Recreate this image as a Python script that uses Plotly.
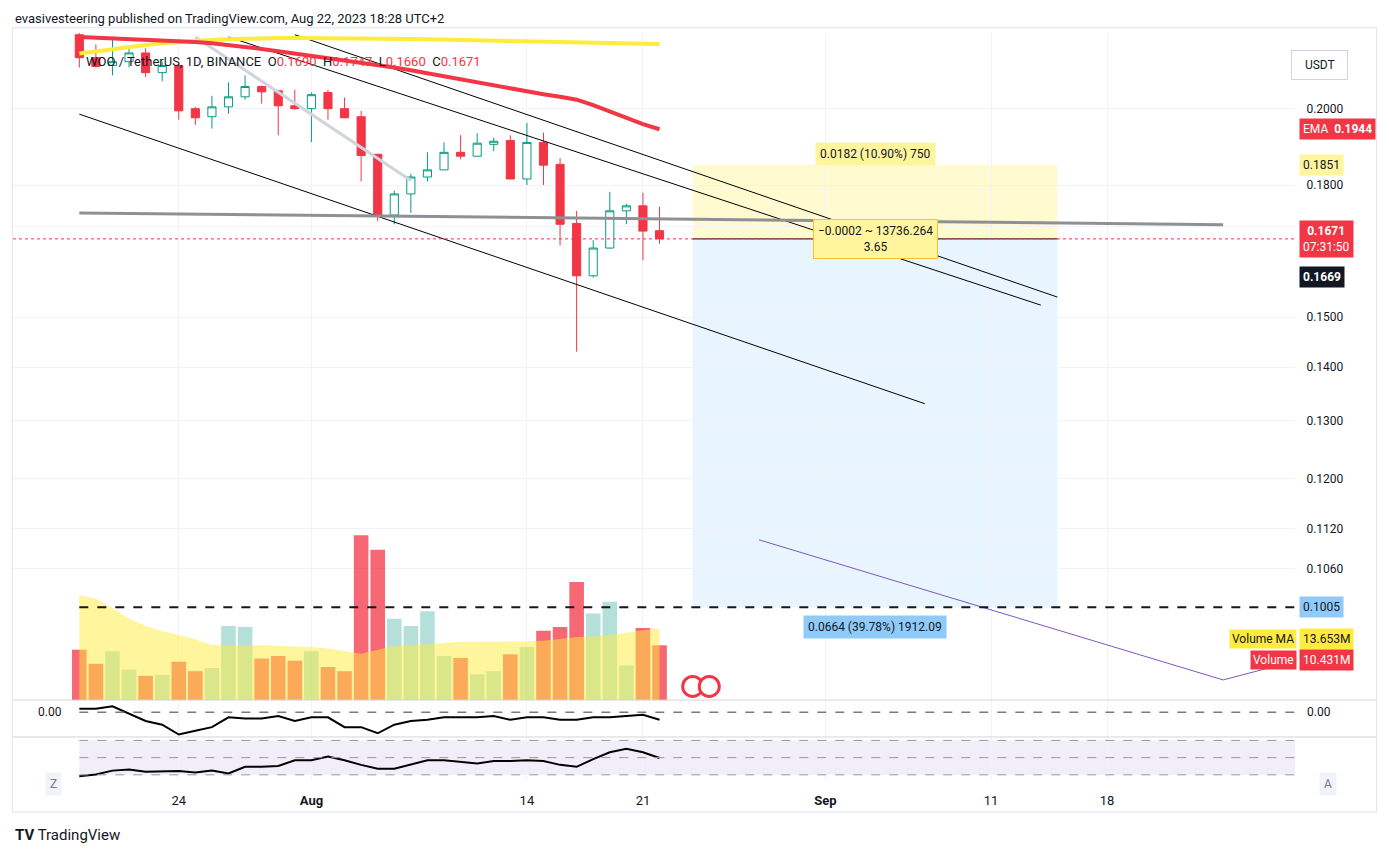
import math
import pandas as pd
import plotly.graph_objects as go

# daily candles, Jul 18 - Aug 22 2023
dates = pd.date_range("2023-07-18", "2023-08-22", freq="D")
opens = [0.2215, 0.2146, 0.2123, 0.2134, 0.2160, 0.2102, 0.2123, 0.2000, 0.1978, 0.2005, 0.2033, 0.2062,
         0.2050, 0.2008, 0.2000, 0.2045, 0.2000, 0.1978, 0.1878, 0.1727, 0.1778, 0.1820, 0.1838, 0.1883,
         0.1873, 0.1904, 0.1914, 0.1815, 0.1909, 0.1852, 0.1707, 0.1588, 0.1650, 0.1737, 0.1749, 0.1690]
highs = [0.2240, 0.2185, 0.2208, 0.2177, 0.2174, 0.2134, 0.2123, 0.2005, 0.2036, 0.2074, 0.2094, 0.2065,
         0.2050, 0.2053, 0.2045, 0.2053, 0.2031, 0.1994, 0.1878, 0.1786, 0.1828, 0.1883, 0.1909, 0.1928,
         0.1933, 0.1922, 0.1928, 0.1961, 0.1935, 0.1868, 0.1737, 0.1668, 0.1783, 0.1754, 0.1781, 0.1747]
lows = [0.2117, 0.2117, 0.2094, 0.2117, 0.2089, 0.2077, 0.1970, 0.1956, 0.1946, 0.1986, 0.2025, 0.2014,
        0.1928, 0.1997, 0.1910, 0.1970, 0.1975, 0.1809, 0.1712, 0.1705, 0.1732, 0.1809, 0.1838, 0.1865,
        0.1873, 0.1886, 0.1815, 0.1800, 0.1800, 0.1656, 0.1430, 0.1584, 0.1648, 0.1705, 0.1622, 0.1660]
closes = [0.2146, 0.2120, 0.2134, 0.2160, 0.2102, 0.2123, 0.1994, 0.1975, 0.2005, 0.2033, 0.2062, 0.2047,
          0.2008, 0.2000, 0.2039, 0.2000, 0.1975, 0.1875, 0.1727, 0.1778, 0.1820, 0.1838, 0.1883, 0.1873,
          0.1907, 0.1912, 0.1815, 0.1909, 0.1850, 0.1705, 0.1588, 0.1650, 0.1737, 0.1749, 0.1689, 0.1671]
ema = [0.2208, 0.2206, 0.2204, 0.2203, 0.2201, 0.2199, 0.2196, 0.2193, 0.2189, 0.2184, 0.2178, 0.2172,
       0.2165, 0.2158, 0.2152, 0.2146, 0.2140, 0.2133, 0.2125, 0.2117, 0.2109, 0.2100, 0.2092, 0.2084,
       0.2075, 0.2066, 0.2056, 0.2047, 0.2040, 0.2033, 0.2025, 0.2010, 0.1992, 0.1975, 0.1958, 0.1944]
sma = [0.2158, 0.2165, 0.2172, 0.2178, 0.2184, 0.2189, 0.2193, 0.2196, 0.2199, 0.2201, 0.2203, 0.2204,
       0.2205, 0.2205, 0.2205, 0.2205, 0.2204, 0.2204, 0.2203, 0.2203, 0.2202, 0.2201, 0.2200, 0.2199,
       0.2198, 0.2197, 0.2196, 0.2195, 0.2194, 0.2193, 0.2192, 0.2191, 0.2190, 0.2189, 0.2188, 0.2187]
volume = [9.6, 6.9, 9.3, 5.8, 4.6, 4.8, 7.3, 5.5, 6.1, 14.1, 13.9, 7.9, 8.4, 7.5, 9.3, 6.3, 5.5, 31.4,
          28.6, 15.5, 14.1, 16.9, 8.4, 8.0, 4.9, 5.5, 8.7, 10.1, 13.2, 13.9, 22.5, 16.5, 18.7, 6.6, 13.7, 10.431]
volume_ma = [20.0, 19.3, 17.5, 15.5, 14.1, 13.1, 12.4, 11.6, 10.5, 10.4, 10.5, 10.5, 10.3, 10.2, 10.1, 9.8,
             9.3, 8.8, 9.6, 10.3, 10.5, 10.7, 11.0, 11.1, 11.1, 11.1, 11.1, 11.2, 11.3, 11.6, 12.0, 12.1,
             12.4, 12.8, 13.3, 13.653]
osc = [0.0003, 0.0003, 0.0005, -0.0001, -0.0007, -0.0010, -0.0018, -0.0015, -0.0012, -0.0004, -0.0005,
       -0.0005, -0.0003, -0.0007, -0.0004, -0.0004, -0.0012, -0.0012, -0.0017, -0.0010, -0.0007, -0.0006,
       -0.0004, -0.0004, -0.0004, -0.0003, -0.0006, -0.0004, -0.0004, -0.0006, -0.0006, -0.0004, -0.0004,
       -0.0003, -0.0002, -0.0006]
rsi = [28.3, 30.4, 34.9, 36.3, 33.6, 33.6, 34.4, 32.7, 34.9, 31.7, 39.3, 39.3, 40.3, 46.9, 46.9, 51.3,
       46.9, 41.6, 37.1, 37.1, 42.4, 46.9, 46.9, 45.1, 43.3, 46.0, 46.0, 46.9, 46.0, 41.6, 39.3, 48.3,
       56.3, 60.3, 56.3, 49.6]

# drawings: (start date, start price, end date, end price, colour, width)
trendlines = [
    ("2023-07-18", 0.1985, "2023-09-07", 0.1331, "black", 1),
    ("2023-07-27", 0.2208, "2023-09-14", 0.1525, "black", 1),
    ("2023-07-31", 0.2215, "2023-09-15", 0.1542, "black", 1),
    ("2023-07-18", 0.1732, "2023-09-25", 0.1704, "#8f9096", 3),
    ("2023-07-25", 0.2208, "2023-08-07", 0.1811, "#d1d4dc", 3),
]
purple_x = ["2023-08-28", "2023-09-25", "2023-09-29 08:00"]
purple_y = [0.1103, 0.0909, 0.0933]
entry, target, stop = 0.1671, 0.1005, 0.1851
pos_start, pos_end = "2023-08-24", "2023-09-15"
x_first, x_last = "2023-07-18", "2023-09-29 08:00"

up = "#089981"
down = "#F23645"
vol_colors = ["rgba(8,153,129,0.3)" if c >= o else "rgba(242,54,69,0.75)" for o, c in zip(opens, closes)]

fig = go.Figure()

fig.add_trace(go.Bar(x=dates, y=volume, marker_color=vol_colors, marker_line_width=0,
                     yaxis="y2", width=86400000 * 0.88, showlegend=False))
fig.add_trace(go.Scatter(x=dates, y=volume_ma, mode="lines", line=dict(color="rgba(255,235,59,0.5)", width=0),
                         fill="tozeroy", fillcolor="rgba(255,235,59,0.5)", yaxis="y2", showlegend=False))
fig.add_trace(go.Scatter(x=["2023-08-24", "2023-08-25"], y=[2.6, 2.6], mode="markers", yaxis="y2",
                         marker=dict(size=20, color="white", line=dict(color=down, width=3)), showlegend=False))

for x0, y0, x1, y1, col, w in trendlines:
    fig.add_trace(go.Scatter(x=[x0, x1], y=[y0, y1], mode="lines", line=dict(color=col, width=w), showlegend=False))
fig.add_trace(go.Scatter(x=purple_x, y=purple_y, mode="lines", line=dict(color="#7e57c2", width=1), showlegend=False))

fig.add_trace(go.Scatter(x=dates, y=sma, mode="lines", line=dict(color="#ffeb3b", width=4), showlegend=False))
fig.add_trace(go.Scatter(x=dates, y=ema, mode="lines", line=dict(color="#f23645", width=4), showlegend=False))

fig.add_trace(go.Candlestick(x=dates, open=opens, high=highs, low=lows, close=closes,
                             increasing=dict(line=dict(color=up, width=1), fillcolor="white"),
                             decreasing=dict(line=dict(color=down, width=1), fillcolor=down),
                             whiskerwidth=0, showlegend=False))

fig.add_trace(go.Scatter(x=dates, y=osc, mode="lines", line=dict(color="black", width=2), yaxis="y3", showlegend=False))
fig.add_trace(go.Scatter(x=dates, y=rsi, mode="lines", line=dict(color="black", width=2), yaxis="y4", showlegend=False))

shapes = [
    # position tool
    dict(type="rect", xref="x", yref="y", x0=pos_start, x1=pos_end, y0=entry, y1=stop,
         fillcolor="rgba(255,241,118,0.35)", line_width=0, layer="below"),
    dict(type="rect", xref="x", yref="y", x0=pos_start, x1=pos_end, y0=target, y1=entry,
         fillcolor="rgba(33,150,243,0.1)", line_width=0, layer="below"),
    dict(type="line", xref="x", yref="y", x0=pos_start, x1=pos_end, y0=entry, y1=entry,
         line=dict(color="black", width=1)),
    dict(type="line", xref="x", yref="y", x0=x_first, x1=x_last, y0=target, y1=target,
         line=dict(color="#131722", width=2, dash="dash")),
    dict(type="line", xref="paper", yref="y", x0=0, x1=1, y0=closes[-1], y1=closes[-1],
         line=dict(color=down, width=1, dash="dot")),
    dict(type="line", xref="x", yref="y3", x0=x_first, x1=x_last, y0=0, y1=0,
         line=dict(color="#787b86", width=1.5, dash="dash")),
    dict(type="rect", xref="x", yref="y4", x0=x_first, x1=x_last, y0=30, y1=70,
         fillcolor="rgba(126,87,194,0.1)", line_width=0, layer="below"),
    # outer frame
    dict(type="rect", xref="paper", yref="paper", x0=-0.0005, x1=1.0637, y0=-0.043, y1=1.007,
         line=dict(color="#e0e3eb", width=1)),
]
for yy in [0.107, 0.0576]:
    shapes.append(dict(type="line", xref="paper", yref="paper", x0=0, x1=1.0637, y0=yy, y1=yy,
                       line=dict(color="#d1d4dc", width=1)))
for lv in [30, 50, 70]:
    shapes.append(dict(type="line", xref="x", yref="y4", x0=x_first, x1=x_last, y0=lv, y1=lv,
                       line=dict(color="#9598a1", width=1, dash="dash")))


def badge(price, text, bg, fg="white"):
    return dict(xref="paper", yref="y", x=1.0, y=math.log10(price), xanchor="left", xshift=4, text=text,
                showarrow=False, bgcolor=bg, font=dict(color=fg, size=12), borderpad=3)


def label(price, text, bg, xanchor="center", **kw):
    return dict(xref="x", yref="y", x="2023-09-04", y=math.log10(price), text=text, showarrow=False,
                bgcolor=bg, font=dict(color="#131722", size=12), borderpad=4, xanchor=xanchor, **kw)


annotations = [
    dict(xref="paper", yref="paper", x=0, y=1.02, xanchor="left", yanchor="middle", showarrow=False,
         text="evasivesteering published on TradingView.com, Aug 22, 2023 18:28 UTC+2",
         font=dict(size=13, color="#131722")),
    dict(xref="paper", yref="paper", x=0, y=-0.074, xanchor="left", yanchor="middle", showarrow=False,
         text="<b>TV</b> TradingView", font=dict(size=15, color="#131722")),
    dict(xref="paper", yref="paper", x=0.055, y=0.975, xanchor="left", showarrow=False,
         text="WOO / TetherUS, 1D, BINANCE  O<span style='color:#f23645'>0.1690</span>  H<span style='color:#f23645'>0.1747</span>"
              "  L<span style='color:#f23645'>0.1660</span>  C<span style='color:#f23645'>0.1671</span>",
         font=dict(size=13, color="#131722")),
    dict(xref="paper", yref="paper", x=1.0415, y=0.977, showarrow=False, text="  USDT  ",
         font=dict(size=12, color="#131722"), bordercolor="#d1d4dc", borderwidth=1, borderpad=7, bgcolor="white"),
    badge(0.1944, "EMA  <b>0.1944</b>", "#f23645"),
    badge(0.1851, "0.1851", "#fff59d", "#131722"),
    badge(0.1671, "<b>0.1671</b><br>07:31:50", "#f23645"),
    badge(0.1586, "<b>0.1669</b>", "#131722"),
    badge(target, "0.1005", "#90caf9", "#131722"),
    dict(xref="paper", yref="y", x=1.0, y=math.log10(0.0962), xanchor="right", xshift=2, text="Volume MA",
         showarrow=False, bgcolor="#ffeb3b", font=dict(color="#131722", size=12), borderpad=2),
    badge(0.0962, "13.653M", "#ffeb3b", "#131722"),
    dict(xref="paper", yref="y", x=1.0, y=math.log10(0.0934), xanchor="right", xshift=2, text="Volume",
         showarrow=False, bgcolor="#f23645", font=dict(color="white", size=12), borderpad=2),
    badge(0.0934, "10.431M", "#f23645"),
    label(0.1878, "0.0182 (10.90%) 750", "#fff59d"),
    label(0.1671, "\u22120.0002 ~ 13736.264<br>3.65", "#fff59d", bordercolor="#fbc02d", borderwidth=1),
    label(0.0978, "0.0664 (39.78%) 1912.09", "#90caf9"),
    dict(xref="paper", yref="y3", x=0.018, y=0, text="0.00", showarrow=False, font=dict(size=12, color="#131722")),
    dict(xref="paper", yref="y3", x=1.03, y=0, text="0.00", showarrow=False, font=dict(size=12, color="#131722")),
    dict(xref="paper", yref="paper", x=0.025, y=-0.022, text="Z", showarrow=False, font=dict(size=12, color="#787b86"),
         bgcolor="#f0f3fa", borderpad=4),
    dict(xref="paper", yref="paper", x=1.033, y=-0.022, text="A", showarrow=False, font=dict(size=12, color="#787b86"),
         bgcolor="#f0f3fa", borderpad=4),
]

price_ticks = [0.2000, 0.1800, 0.1700, 0.1500, 0.1400, 0.1300, 0.1200, 0.1120, 0.1060]

fig.update_layout(
    width=1381, height=849,
    margin=dict(l=5, r=94, t=25, b=77),
    plot_bgcolor="white", paper_bgcolor="white",
    font=dict(family="Roboto, Arial", color="#131722"),
    xaxis=dict(type="date", range=["2023-07-14", x_last], rangeslider=dict(visible=False),
               tickvals=["2023-07-24", "2023-08-01", "2023-08-14", "2023-08-21", "2023-09-01", "2023-09-11", "2023-09-18"],
               ticktext=["24", "<b>Aug</b>", "14", "21", "<b>Sep</b>", "11", "18"],
               showgrid=True, gridcolor="#f0f3fa", anchor="y4", ticks="outside", ticklen=8,
               tickcolor="rgba(0,0,0,0)", tickfont=dict(size=13), showline=False, zeroline=False),
    yaxis=dict(type="log", domain=[0.107, 1], side="right", range=[-1.0535, -0.6536],
               tickvals=price_ticks, ticktext=[f"{v:.4f}" for v in price_ticks], tickfont=dict(size=12),
               showgrid=True, gridcolor="#f0f3fa", zeroline=False, ticks="outside", ticklen=8,
               tickcolor="rgba(0,0,0,0)"),
    yaxis2=dict(domain=[0.107, 1], overlaying="y", range=[0, 127], visible=False, anchor="x"),
    yaxis3=dict(domain=[0.0576, 0.107], range=[-0.002, 0.001], visible=False, anchor="x"),
    yaxis4=dict(domain=[0, 0.0576], range=[24, 74], visible=False, anchor="x"),
    shapes=shapes, annotations=annotations, bargap=0.1,
)

fig.write_html("out.html")
